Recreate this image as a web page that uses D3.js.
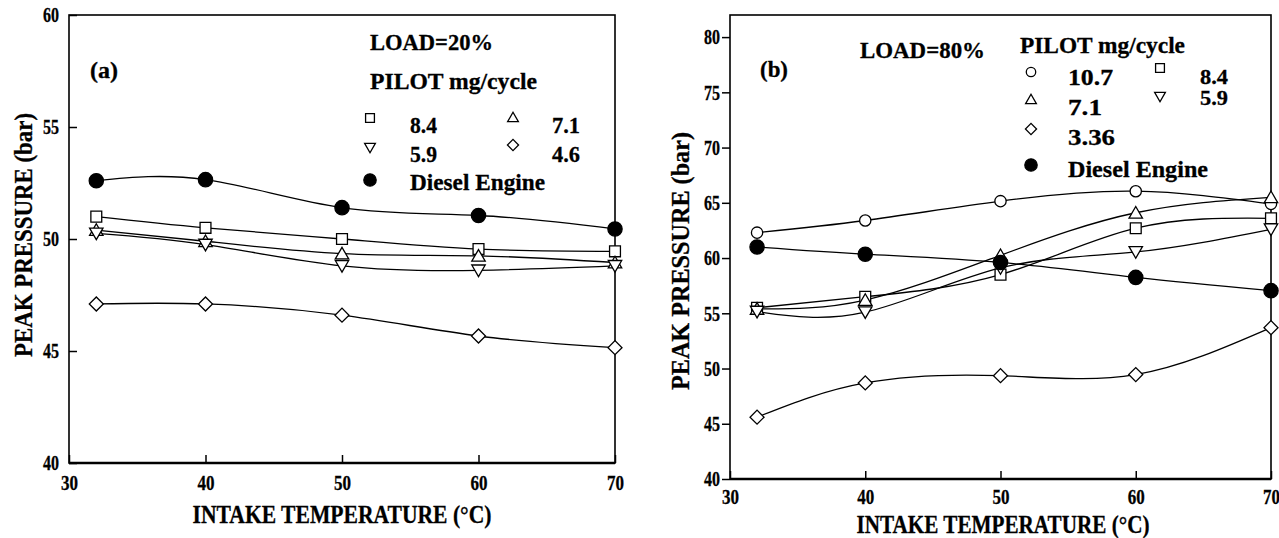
<!DOCTYPE html>
<html>
<head>
<meta charset="utf-8">
<script src="https://cdn.jsdelivr.net/npm/d3@7"></script>
<style>
  html, body { margin: 0; padding: 0; background: #fff; }
  svg { display: block; }
  text { font-family: "Liberation Serif", "Times New Roman", serif; font-weight: bold; fill: #000; stroke: #000; stroke-width: 0.3px; }
</style>
</head>
<body>
<svg id="chart" width="1279" height="538"></svg>
<script>
// ---- Data: intake temperature (°C) and peak pressure (bar) ----
const intakeTemp = [32, 40, 50, 60, 70];

// (a) LOAD = 20 %
const loadA_pilot84  = [51.0, 50.5, 50.0, 49.55, 49.45];
const loadA_pilot71  = [50.4, 49.9, 49.35, 49.25, 48.95];
const loadA_pilot59  = [50.25, 49.75, 48.8, 48.6, 48.8];
const loadA_pilot46  = [47.1, 47.1, 46.6, 45.67, 45.15];
const loadA_diesel   = [52.6, 52.65, 51.4, 51.05, 50.45];

// (b) LOAD = 80 %
const loadB_pilot107 = [62.3, 63.4, 65.15, 66.05, 64.9];
const loadB_pilot84  = [55.5, 56.5, 58.5, 62.7, 63.6];
const loadB_pilot71  = [55.4, 56.2, 60.25, 64.1, 65.5];
const loadB_pilot59  = [55.15, 55.1, 59.1, 60.55, 62.6];
const loadB_pilot336 = [45.6, 48.7, 49.35, 49.45, 53.7];
const loadB_diesel   = [61.0, 60.35, 59.6, 58.25, 57.05];

// Axis tick values
const xTicks = [30, 40, 50, 60, 70];
const yTicksA = [40, 45, 50, 55, 60];
const yTicksB = [40, 45, 50, 55, 60, 65, 70, 75, 80];

const svg = d3.select("#chart");

// Marker shapes
function markerPath(kind, size) {
  switch (kind) {
    case "circle":
    case "dot":     return d3.symbol(d3.symbolCircle, size)();
    case "square":
    case "diamond": return d3.symbol(d3.symbolSquare, size)();
    case "tri":
    case "itri":    return d3.symbol(d3.symbolTriangle, size)();
  }
}
function markerRotate(kind) {
  if (kind === "itri") return 180;
  if (kind === "diamond") return 45;
  return 0;
}
const markerSize = { circle: 100, dot: 160, square: 118, tri: 78, itri: 78, diamond: 98 };
const legendSize = { circle: 70, dot: 120, square: 78, tri: 50, itri: 50, diamond: 62 };

function drawMarker(g, kind, x, y, size) {
  const dy = kind === "itri" ? -1.5 : (kind === "tri" ? 1.5 : 0);
  g.append("path")
    .attr("d", markerPath(kind, size))
    .attr("transform", `translate(${x},${y + dy}) rotate(${markerRotate(kind)})`)
    .attr("fill", kind === "dot" ? "#000" : "#fff")
    .attr("stroke", "#000")
    .attr("stroke-width", 1.3);
}

function label(g, x, y, str, size, width, anchor) {
  const t = g.append("text")
    .attr("x", x).attr("y", y)
    .attr("font-size", size)
    .attr("text-anchor", anchor || "start")
    .text(str);
  if (width) t.attr("textLength", width).attr("lengthAdjust", "spacingAndGlyphs");
  return t;
}

function drawPanel(cfg) {
  const g = svg.append("g");
  const x = d3.scaleLinear().domain([30, 70]).range([cfg.x0, cfg.x1]);
  const y = d3.scaleLinear().domain(cfg.yDomain).range([cfg.y0, cfg.y1]);

  // Smooth curves through the measured points
  const line = d3.line()
    .x((d, i) => x(intakeTemp[i]))
    .y(d => y(d))
    .curve(d3.curveNatural);
  cfg.series.forEach(s => {
    g.append("path")
      .attr("d", line(s.values))
      .attr("fill", "none")
      .attr("stroke", "#000")
      .attr("stroke-width", 1.3);
  });

  // Frame
  g.append("rect")
    .attr("x", cfg.x0).attr("y", cfg.top)
    .attr("width", cfg.x1 - cfg.x0).attr("height", cfg.y0 - cfg.top)
    .attr("fill", "none").attr("stroke", "#000").attr("stroke-width", 1.6);
  g.append("line")
    .attr("x1", cfg.x0).attr("x2", cfg.x1)
    .attr("y1", cfg.y0).attr("y2", cfg.y0)
    .attr("stroke", "#000").attr("stroke-width", 2.4);

  // Axes
  const yAxis = d3.axisLeft(y).tickValues(cfg.yTicks)
    .tickSizeInner(cfg.yTickIn ? -8 : 8).tickSizeOuter(0)
    .tickPadding(cfg.yTickIn ? 10 : 2);
  const ya = g.append("g").attr("transform", `translate(${cfg.x0},0)`).call(yAxis);
  ya.select(".domain").remove();
  ya.selectAll(".tick line").attr("stroke", "#000").attr("stroke-width", 1.5);
  ya.selectAll(".tick text")
    .attr("font-size", 21).attr("font-family", null).attr("fill", null)
    .attr("textLength", 16).attr("lengthAdjust", "spacingAndGlyphs");

  const xAxis = d3.axisBottom(x).tickValues(xTicks)
    .tickSizeInner(-8).tickSizeOuter(0).tickPadding(cfg.xPad)
    .tickFormat(d3.format("d"));
  const xa = g.append("g").attr("transform", `translate(0,${cfg.y0})`).call(xAxis);
  xa.select(".domain").remove();
  xa.selectAll(".tick line").attr("stroke", "#000").attr("stroke-width", 1.5);
  xa.selectAll(".tick text")
    .attr("font-size", 21).attr("font-family", null).attr("fill", null)
    .attr("textLength", 17).attr("lengthAdjust", "spacingAndGlyphs");

  // Markers
  cfg.series.forEach(s => {
    s.values.forEach((v, i) => drawMarker(g, s.kind, x(intakeTemp[i]), y(v), markerSize[s.kind]));
  });

  // Axis titles
  label(g, cfg.xTitleX, cfg.xTitleY, "INTAKE TEMPERATURE (°C)", 25, cfg.xTitleW, "middle");
  label(g, 0, 0, "PEAK PRESSURE (bar)", 25, cfg.yTitleW, "middle")
    .attr("transform", `translate(${cfg.yTitleX},${cfg.yTitleY}) rotate(-90)`);

  // Panel tag and legend
  label(g, cfg.tag.x, cfg.tag.y, cfg.tag.text, 23, 28);
  cfg.texts.forEach(t => label(g, t.x, t.y, t.text, 24, t.w));
  cfg.legend.forEach(l => {
    drawMarker(g, l.kind, l.mx, l.my, legendSize[l.kind]);
    label(g, l.tx, l.ty, l.text, l.fs || 24, l.w);
  });
}

drawPanel({
  x0: 69, x1: 615, y0: 463, y1: 15, top: 15,
  yDomain: [40, 60], yTicks: yTicksA, yTickIn: true, xPad: 12,
  xTitleX: 342, xTitleY: 523, xTitleW: 299,
  yTitleX: 32, yTitleY: 235, yTitleW: 244,
  tag: { x: 90, y: 78, text: "(a)" },
  texts: [
    { x: 370, y: 50, text: "LOAD=20%", w: 123 },
    { x: 370, y: 89, text: "PILOT mg/cycle", w: 167 }
  ],
  legend: [
    { kind: "square",  mx: 370, my: 118, tx: 410, ty: 133, text: "8.4", w: 27 },
    { kind: "tri",     mx: 513, my: 117, tx: 552, ty: 133, text: "7.1", w: 28 },
    { kind: "itri",    mx: 370, my: 148, tx: 410, ty: 162, text: "5.9", w: 27 },
    { kind: "diamond", mx: 513, my: 145, tx: 552, ty: 162, text: "4.6", w: 28 },
    { kind: "dot",     mx: 370, my: 180, tx: 410, ty: 190, text: "Diesel Engine", w: 135 }
  ],
  series: [
    { kind: "square",  values: loadA_pilot84 },
    { kind: "tri",     values: loadA_pilot71 },
    { kind: "itri",    values: loadA_pilot59 },
    { kind: "diamond", values: loadA_pilot46 },
    { kind: "dot",     values: loadA_diesel }
  ]
});

drawPanel({
  x0: 730, x1: 1271, y0: 479, y1: 15, top: 15,
  yDomain: [40, 82], yTicks: yTicksB, yTickIn: false, xPad: 10,
  xTitleX: 1003, xTitleY: 533, xTitleW: 293,
  yTitleX: 689, yTitleY: 261, yTitleW: 258,
  tag: { x: 760, y: 77, text: "(b)" },
  texts: [
    { x: 860, y: 58, text: "LOAD=80%", w: 125 },
    { x: 1020, y: 53, text: "PILOT mg/cycle", w: 165 }
  ],
  legend: [
    { kind: "circle",  mx: 1031, my: 72,  tx: 1068, ty: 85,  text: "10.7", w: 45 },
    { kind: "square",  mx: 1160, my: 68,  tx: 1200, ty: 84,  text: "8.4", w: 28, fs: 22 },
    { kind: "tri",     mx: 1031, my: 99,  tx: 1068, ty: 115, text: "7.1", w: 34 },
    { kind: "itri",    mx: 1160, my: 97,  tx: 1200, ty: 105, text: "5.9", w: 28, fs: 22 },
    { kind: "diamond", mx: 1031, my: 129, tx: 1068, ty: 145, text: "3.36", w: 47 },
    { kind: "dot",     mx: 1031, my: 165, tx: 1068, ty: 177, text: "Diesel Engine", w: 140 }
  ],
  series: [
    { kind: "circle",  values: loadB_pilot107 },
    { kind: "square",  values: loadB_pilot84 },
    { kind: "tri",     values: loadB_pilot71 },
    { kind: "itri",    values: loadB_pilot59 },
    { kind: "diamond", values: loadB_pilot336 },
    { kind: "dot",     values: loadB_diesel }
  ]
});
</script>
</body>
</html>
